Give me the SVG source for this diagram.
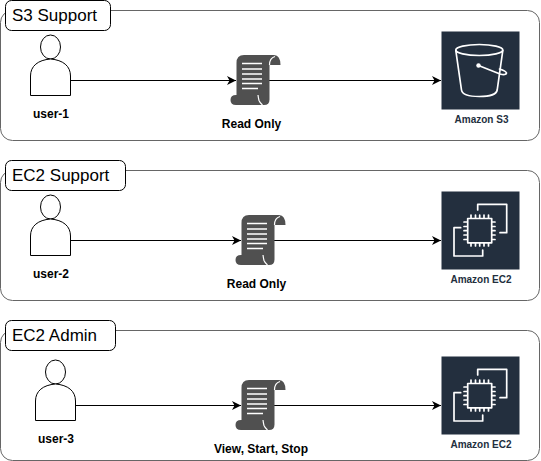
<svg xmlns="http://www.w3.org/2000/svg" xmlns:xlink="http://www.w3.org/1999/xlink" width="541" height="461" viewBox="0 0 541 461">
<style>
text{font-family:"Liberation Sans",Arial,sans-serif}
.panel{fill:#fff;stroke:#666;stroke-width:1}
.title{fill:#fff;stroke:#000;stroke-width:1}
.tt{font-size:17px;fill:#000}
.lb{font-size:12px;font-weight:bold;fill:#000;text-anchor:middle}
.aws{font-size:10px;font-weight:bold;fill:#232f3e;text-anchor:middle}
.conn{fill:none;stroke:#000;stroke-width:1.2;marker-end:url(#arr)}
.ws{fill:none;stroke:#fff;stroke-width:1.7;stroke-linejoin:round;stroke-linecap:round}
</style>
<defs>
<marker id="arr" markerUnits="userSpaceOnUse" markerWidth="11" markerHeight="11" refX="9" refY="5.500" orient="auto"><path d="M0 1L9 5.500L0 10L2.500 5.500Z" fill="#000"/></marker>
<g id="user">
<ellipse cx="50.500" cy="47" rx="10" ry="12" fill="#fff" stroke="#000"/>
<path d="M30.500 95.500V76C30.500 66 38 60 50.500 59C63 60 70.500 66 70.500 76V95.500Z" fill="#fff" stroke="#000"/>
</g>
<g id="scroll">
<path d="M236.500 63Q236.500 55 244 55H274Q280.500 55.500 280.500 65H269.500V99.500Q269.500 105 264 105H236Q230.500 105 230.500 100Q230.500 95 236 95H236.500Z" fill="#505050"/>
<path d="M269.500 65Q269.500 58 275 56.500M258 95Q258.500 99 259 100.500Q260 103 262.500 105" fill="none" stroke="#fff" stroke-width="1.200"/>
<path d="M242 63.500H262M242 69H262M242 74H262M242 79H262M242 83.500H262M242 88.500H258" stroke="#fff" stroke-width="1.700" fill="none"/>
</g>
<g id="ec2">
<rect x="441.500" y="191.500" width="78" height="78" fill="#232f3e"/>
<path class="ws" d="M477.700 210V204.300H506.700V232.700H500"/>
<path class="ws" d="M460.700 227.700H454V256H482.700V250"/>
<rect x="467.700" y="218.500" width="24" height="24.300" class="ws"/>
<path class="ws" stroke-width="1.400" d="M471 215V218M475.500 215V218M479.700 215V218M484 215V218M488.500 215V218M471 243V246M475.500 243V246M479.700 243V246M484 243V246M488.500 243V246M464 222H467M464 226.500H467M464 230.700H467M464 235H467M464 239.500H467M492 222H495M492 226.500H495M492 230.700H495M492 235H495M492 239.500H495"/>
</g>
</defs>

<g id="panel-s3">
<rect class="panel" x="0.500" y="10.500" width="539" height="130" rx="12"/>
</g>
<g id="panel-ec2-support">
<rect class="panel" x="0.500" y="170.500" width="539" height="130" rx="12"/>
</g>
<g id="panel-ec2-admin">
<rect class="panel" x="0.500" y="330.500" width="539" height="130" rx="12"/>
</g>

<g id="connectors">
<path class="conn" d="M70.500 80.500H236"/>
<path class="conn" d="M268 80.500H441"/>
<path class="conn" d="M70.500 240.500H241"/>
<path class="conn" d="M273 240.500H441"/>
<path class="conn" d="M75.500 405.500H241"/>
<path class="conn" d="M273 405.500H441"/>
</g>

<g id="title-s3"><rect class="title" x="5.500" y="0.500" width="105" height="30" rx="6"/><text class="tt" x="12" y="21">S3 Support</text></g>
<g id="title-ec2-support"><rect class="title" x="5.500" y="160.500" width="120" height="30" rx="6"/><text class="tt" x="12" y="181">EC2 Support</text></g>
<g id="title-ec2-admin"><rect class="title" x="5.500" y="320.500" width="110" height="30" rx="6"/><text class="tt" x="12" y="341">EC2 Admin</text></g>

<g id="user-1"><use xlink:href="#user" href="#user"/><text class="lb" x="51" y="118">user-1</text></g>
<g id="user-2"><use xlink:href="#user" href="#user" transform="translate(0,160)"/><text class="lb" x="51" y="278">user-2</text></g>
<g id="user-3"><use xlink:href="#user" href="#user" transform="translate(5,325)"/><text class="lb" x="56" y="443">user-3</text></g>

<g id="policy-1"><use xlink:href="#scroll" href="#scroll"/><text class="lb" x="251.500" y="128">Read Only</text></g>
<g id="policy-2"><use xlink:href="#scroll" href="#scroll" transform="translate(5,160)"/><text class="lb" x="256.500" y="288">Read Only</text></g>
<g id="policy-3"><use xlink:href="#scroll" href="#scroll" transform="translate(5,325)"/><text class="lb" x="261" y="453">View, Start, Stop</text></g>

<g id="s3">
<rect x="441.500" y="31.500" width="78" height="78" fill="#232f3e"/>
<ellipse class="ws" cx="479.300" cy="50" rx="23.500" ry="5.500"/>
<path class="ws" d="M455.800 50.500L461.500 90Q462.500 96.500 479.300 96.500Q496 96.500 497.200 90L502.800 50.500"/>
<circle cx="478.500" cy="65.500" r="2.200" fill="#fff"/>
<path class="ws" d="M478.500 65.500L500 74Q506 75.500 506.500 73Q506 71 499.500 69"/>
<text class="aws" x="481.500" y="123">Amazon S3</text>
</g>
<g id="ec2-1"><use xlink:href="#ec2" href="#ec2"/><text class="aws" x="481" y="283">Amazon EC2</text></g>
<g id="ec2-2"><use xlink:href="#ec2" href="#ec2" transform="translate(0,165)"/><text class="aws" x="481" y="448">Amazon EC2</text></g>
</svg>
